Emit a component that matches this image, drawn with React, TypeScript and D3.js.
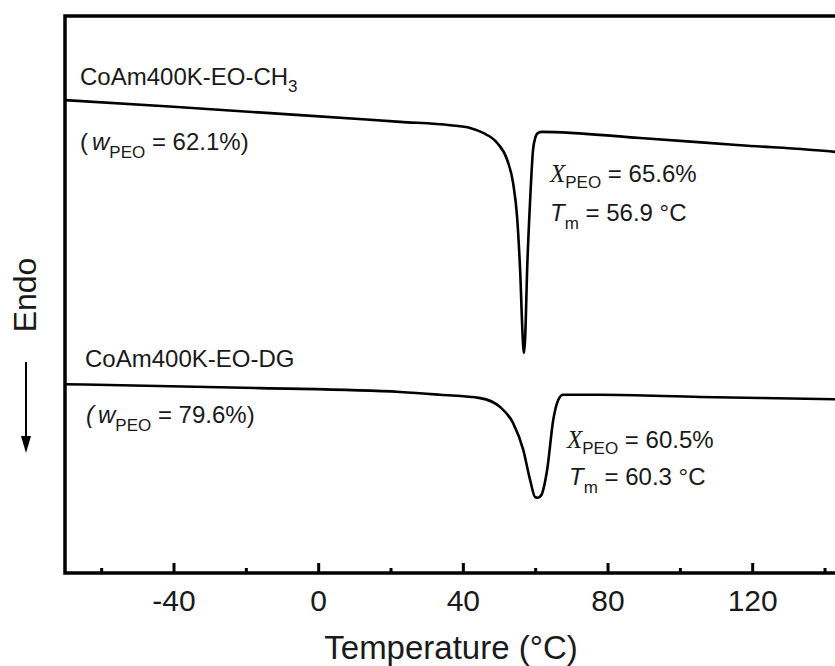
import React, { useEffect, useRef } from "react";
import * as d3 from "d3";

// DSC heating traces (heat flow in arbitrary units, endo down)
const ch3Temp = [-70, -40, -5, 22.7, 36.5, 42, 45.6, 49.5, 52.3, 53.9, 55, 55.8, 56.7, 56.9, 57.2, 57.8, 58.6, 59.4, 60, 60.8, 61.9, 89, 116.7, 142.9, 150];
const ch3Flow = [84.9, 83.7, 82.2, 81.0, 80.4, 79.9, 79.0, 77.2, 74.1, 70.0, 63.9, 54.9, 40.6, 39.5, 41.8, 54.9, 66.9, 75.9, 78.1, 79.0, 79.2, 78.1, 76.8, 75.6, 75.1];

const dgTemp = [-70, -16, 22.7, 33.7, 44.8, 50.3, 53.9, 56.7, 58.6, 60, 60.8, 61.7, 63.3, 65, 66.4, 67.7, 78, 105.6, 142.9, 150];
const dgFlow = [33.9, 33.2, 32.5, 32.0, 31.4, 29.8, 26.9, 22.1, 16.7, 13.6, 13.5, 14.0, 18.5, 27.5, 31.1, 32.0, 32.0, 31.6, 31.2, 31.1];

const majorTicks = [-40, 0, 40, 80, 120];
const minorTicks = [-60, -20, 20, 60, 100, 140];

const FONT = "'Liberation Sans', Arial, sans-serif";

const App = () => {
  const ref = useRef<SVGSVGElement>(null);

  useEffect(() => {
    const svg = d3.select(ref.current);
    svg.selectAll("*").remove();

    const x = d3.scaleLinear().domain([-70, 150]).range([65, 860.7]);
    const y = d3.scaleLinear().domain([0, 100]).range([573, 16]);

    // frame (right side falls outside the picture)
    svg
      .append("rect")
      .attr("x", x(-70))
      .attr("y", y(100))
      .attr("width", x(150) - x(-70))
      .attr("height", y(0) - y(100))
      .attr("fill", "none")
      .attr("stroke", "#000")
      .attr("stroke-width", 3.5);

    const minorAxis = d3
      .axisBottom(x)
      .tickValues(minorTicks)
      .tickSizeInner(-5)
      .tickSizeOuter(0)
      .tickFormat(() => "");
    const majorAxis = d3
      .axisBottom(x)
      .tickValues(majorTicks)
      .tickSizeInner(-10)
      .tickSizeOuter(0)
      .tickPadding(17)
      .tickFormat(d3.format("d"));

    [minorAxis, majorAxis].forEach(ax => {
      const g = svg.append("g").attr("transform", `translate(0,${y(0)})`).call(ax);
      g.select(".domain").remove();
      g.selectAll("line").attr("stroke", "#000").attr("stroke-width", 3);
      g.selectAll("text")
        .attr("font-family", FONT)
        .attr("font-size", 30)
        .attr("fill", "#1a1a1a")
        .text((d: any) => (ax === majorAxis ? String(d) : ""));
    });

    svg
      .append("text")
      .attr("x", 451)
      .attr("y", 659)
      .attr("text-anchor", "middle")
      .attr("font-family", FONT)
      .attr("font-size", 33)
      .attr("fill", "#1a1a1a")
      .text("Temperature (\u00b0C)");

    // Endo label and arrow
    svg
      .append("text")
      .attr("transform", "translate(36,295) rotate(-90)")
      .attr("text-anchor", "middle")
      .attr("font-family", FONT)
      .attr("font-size", 32)
      .attr("fill", "#1a1a1a")
      .text("Endo");
    svg
      .append("line")
      .attr("x1", 26)
      .attr("x2", 26)
      .attr("y1", 362)
      .attr("y2", 440)
      .attr("stroke", "#000")
      .attr("stroke-width", 2);
    svg
      .append("path")
      .attr("d", "M21,436 L31,436 L26,453 Z")
      .attr("fill", "#000");

    const line = d3
      .line<[number, number]>()
      .x(d => x(d[0]))
      .y(d => y(d[1]))
      .curve(d3.curveMonotoneX);

    const clip = svg
      .append("defs")
      .append("clipPath")
      .attr("id", "plotclip")
      .append("rect")
      .attr("x", x(-70))
      .attr("y", y(100))
      .attr("width", x(150) - x(-70))
      .attr("height", y(0) - y(100));

    [
      d3.zip(ch3Temp, ch3Flow),
      d3.zip(dgTemp, dgFlow)
    ].forEach(data => {
      svg
        .append("path")
        .attr("d", line(data as [number, number][]))
        .attr("clip-path", "url(#plotclip)")
        .attr("fill", "none")
        .attr("stroke", "#000")
        .attr("stroke-width", 2.6)
        .attr("stroke-linejoin", "round");
    });

    const label = (xx: number, yy: number) =>
      svg
        .append("text")
        .attr("x", xx)
        .attr("y", yy)
        .attr("font-family", FONT)
        .attr("font-size", 24)
        .attr("fill", "#1a1a1a");

    // sample names
    const t1 = label(80, 85);
    t1.append("tspan").text("CoAm400K-EO-CH");
    t1.append("tspan").attr("font-size", 17).attr("dy", 7).text("3");
    label(85, 367).text("CoAm400K-EO-DG");

    // weight fractions
    const addW = (xx: number, yy: number, val: string, italicParen: boolean) => {
      const t = label(xx, yy);
      t.append("tspan").attr("font-style", italicParen ? "italic" : "normal").text("(");
      t.append("tspan").attr("font-style", "italic").attr("dx", 4).text("w");
      t.append("tspan").attr("font-size", 17).attr("dy", 8).text("PEO");
      t.append("tspan").attr("dy", -8).text(` = ${val})`);
    };
    addW(80, 150, "62.1%", false);
    addW(86, 423, "79.6%", true);

    // crystallinity and melting point
    const addX = (xx: number, yy: number, val: string) => {
      const t = label(xx, yy);
      t.append("tspan")
        .attr("font-family", "'Liberation Serif', 'Times New Roman', serif")
        .attr("font-style", "italic")
        .attr("font-size", 25)
        .text("X");
      t.append("tspan").attr("font-size", 17).attr("dy", 6).text("PEO");
      t.append("tspan").attr("dy", -6).text(` = ${val}`);
    };
    const addT = (xx: number, yy: number, val: string) => {
      const t = label(xx, yy);
      t.append("tspan").attr("font-style", "italic").text("T");
      t.append("tspan").attr("font-size", 17).attr("dy", 8).text("m");
      t.append("tspan").attr("dy", -8).text(` = ${val} \u00b0C`);
    };
    addX(550, 182, "65.6%");
    addT(550, 221, "56.9");
    addX(567, 448, "60.5%");
    addT(569, 485, "60.3");
  }, []);

  return (
    <svg
      ref={ref}
      width={835}
      height={666}
      style={{ position: "absolute", left: 0, top: 0, background: "#fff" }}
    />
  );
};

export default App;
